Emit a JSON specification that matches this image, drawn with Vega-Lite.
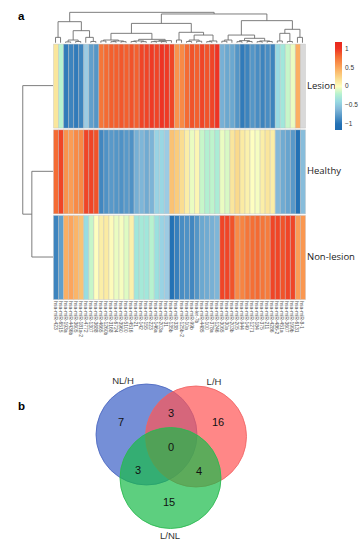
{
  "$schema": "https://vega.github.io/schema/vega-lite/v6.json",
  "padding": 0,
  "spacing": 0,
  "background": "white",
  "config": {
    "view": {"stroke": null},
    "axis": {"disable": true},
    "title": {"font": "Liberation Sans", "fontSize": 11.5, "fontWeight": "bold", "color": "#000000", "anchor": "start", "frame": "group", "baseline": "alphabetic"}
  },
  "datasets": {
    "heat": [
      {"c":0,"r":2,"v":0.15},{"c":1,"r":2,"v":-0.2},{"c":2,"r":2,"v":-0.95},{"c":3,"r":2,"v":-0.9},{"c":4,"r":2,"v":-0.95},{"c":5,"r":2,"v":-0.9},{"c":6,"r":2,"v":-0.5},{"c":7,"r":2,"v":-0.75},{"c":8,"r":2,"v":-0.8},{"c":9,"r":2,"v":0.75},
      {"c":10,"r":2,"v":0.8},{"c":11,"r":2,"v":0.85},{"c":12,"r":2,"v":0.85},{"c":13,"r":2,"v":0.88},{"c":14,"r":2,"v":0.85},{"c":15,"r":2,"v":0.9},{"c":16,"r":2,"v":0.85},{"c":17,"r":2,"v":0.95},{"c":18,"r":2,"v":0.95},{"c":19,"r":2,"v":0.98},
      {"c":20,"r":2,"v":0.95},{"c":21,"r":2,"v":1.0},{"c":22,"r":2,"v":0.98},{"c":23,"r":2,"v":0.95},{"c":24,"r":2,"v":0.6},{"c":25,"r":2,"v":0.65},{"c":26,"r":2,"v":0.8},{"c":27,"r":2,"v":0.9},{"c":28,"r":2,"v":0.85},{"c":29,"r":2,"v":0.95},
      {"c":30,"r":2,"v":0.9},{"c":31,"r":2,"v":0.95},{"c":32,"r":2,"v":1.0},{"c":33,"r":2,"v":-0.65},{"c":34,"r":2,"v":-0.7},{"c":35,"r":2,"v":-0.7},{"c":36,"r":2,"v":-0.8},{"c":37,"r":2,"v":-0.95},{"c":38,"r":2,"v":-0.9},{"c":39,"r":2,"v":-0.8},
      {"c":40,"r":2,"v":-0.85},{"c":41,"r":2,"v":-0.9},{"c":42,"r":2,"v":-0.85},{"c":43,"r":2,"v":-0.9},{"c":44,"r":2,"v":-0.4},{"c":45,"r":2,"v":-0.3},{"c":46,"r":2,"v":-0.15},{"c":47,"r":2,"v":-0.05},{"c":48,"r":2,"v":0.45},{"c":49,"r":2,"v":null},
      {"c":0,"r":1,"v":0.8},{"c":1,"r":1,"v":0.95},{"c":2,"r":1,"v":0.6},{"c":3,"r":1,"v":0.55},{"c":4,"r":1,"v":0.65},{"c":5,"r":1,"v":0.65},{"c":6,"r":1,"v":0.95},{"c":7,"r":1,"v":0.95},{"c":8,"r":1,"v":0.9},{"c":9,"r":1,"v":-0.88},
      {"c":10,"r":1,"v":-0.82},{"c":11,"r":1,"v":-0.78},{"c":12,"r":1,"v":-0.8},{"c":13,"r":1,"v":-0.82},{"c":14,"r":1,"v":-0.78},{"c":15,"r":1,"v":-0.82},{"c":16,"r":1,"v":-0.65},{"c":17,"r":1,"v":-0.62},{"c":18,"r":1,"v":-0.68},{"c":19,"r":1,"v":-0.63},
      {"c":20,"r":1,"v":-0.45},{"c":21,"r":1,"v":-0.42},{"c":22,"r":1,"v":-0.5},{"c":23,"r":1,"v":0.35},{"c":24,"r":1,"v":0.3},{"c":25,"r":1,"v":0.2},{"c":26,"r":1,"v":0.1},{"c":27,"r":1,"v":-0.05},{"c":28,"r":1,"v":0.05},{"c":29,"r":1,"v":-0.15},
      {"c":30,"r":1,"v":-0.22},{"c":31,"r":1,"v":-0.18},{"c":32,"r":1,"v":-0.25},{"c":33,"r":1,"v":-0.05},{"c":34,"r":1,"v":-0.1},{"c":35,"r":1,"v":0.15},{"c":36,"r":1,"v":0.22},{"c":37,"r":1,"v":0.12},{"c":38,"r":1,"v":0.08},{"c":39,"r":1,"v":0.0},
      {"c":40,"r":1,"v":-0.02},{"c":41,"r":1,"v":0.1},{"c":42,"r":1,"v":0.15},{"c":43,"r":1,"v":0.1},{"c":44,"r":1,"v":-0.6},{"c":45,"r":1,"v":-0.68},{"c":46,"r":1,"v":-0.72},{"c":47,"r":1,"v":-0.78},{"c":48,"r":1,"v":-1.0},{"c":49,"r":1,"v":-0.58},
      {"c":0,"r":0,"v":-0.9},{"c":1,"r":0,"v":-0.75},{"c":2,"r":0,"v":0.45},{"c":3,"r":0,"v":0.5},{"c":4,"r":0,"v":0.42},{"c":5,"r":0,"v":0.35},{"c":6,"r":0,"v":-0.38},{"c":7,"r":0,"v":-0.15},{"c":8,"r":0,"v":0.0},{"c":9,"r":0,"v":0.1},
      {"c":10,"r":0,"v":0.12},{"c":11,"r":0,"v":0.02},{"c":12,"r":0,"v":-0.05},{"c":13,"r":0,"v":-0.02},{"c":14,"r":0,"v":-0.08},{"c":15,"r":0,"v":0.08},{"c":16,"r":0,"v":-0.3},{"c":17,"r":0,"v":-0.28},{"c":18,"r":0,"v":-0.3},{"c":19,"r":0,"v":-0.2},
      {"c":20,"r":0,"v":-0.35},{"c":21,"r":0,"v":-0.45},{"c":22,"r":0,"v":-0.5},{"c":23,"r":0,"v":-1.0},{"c":24,"r":0,"v":-0.92},{"c":25,"r":0,"v":-0.85},{"c":26,"r":0,"v":-0.82},{"c":27,"r":0,"v":-0.88},{"c":28,"r":0,"v":-0.8},{"c":29,"r":0,"v":-0.7},
      {"c":30,"r":0,"v":-0.68},{"c":31,"r":0,"v":-0.65},{"c":32,"r":0,"v":-0.62},{"c":33,"r":0,"v":0.95},{"c":34,"r":0,"v":0.95},{"c":35,"r":0,"v":0.9},{"c":36,"r":0,"v":0.65},{"c":37,"r":0,"v":0.68},{"c":38,"r":0,"v":0.75},{"c":39,"r":0,"v":0.78},
      {"c":40,"r":0,"v":0.8},{"c":41,"r":0,"v":0.75},{"c":42,"r":0,"v":0.72},{"c":43,"r":0,"v":0.95},{"c":44,"r":0,"v":0.95},{"c":45,"r":0,"v":0.9},{"c":46,"r":0,"v":0.95},{"c":47,"r":0,"v":0.95},{"c":48,"r":0,"v":0.55},{"c":49,"r":0,"v":0.58}
    ],
    "cdend": [
      {"xl":0.5,"xr":1.5,"h":3.053,"hl":2.99,"hr":2.99},
      {"xl":2.5,"xr":3.5,"h":3.0,"hl":2.99,"hr":2.99},
      {"xl":4.5,"xr":5.5,"h":3.005,"hl":2.99,"hr":2.99},
      {"xl":3.0,"xr":5.0,"h":3.022,"hl":3.0,"hr":3.005},
      {"xl":7.5,"xr":8.5,"h":3.005,"hl":2.99,"hr":2.99},
      {"xl":6.5,"xr":8.0,"h":3.053,"hl":2.99,"hr":3.005},
      {"xl":4.0,"xr":7.25,"h":3.131,"hl":3.022,"hr":3.053},
      {"xl":1.0,"xr":5.625,"h":3.236,"hl":3.053,"hr":3.131},
      {"xl":9.5,"xr":10.5,"h":3.011,"hl":2.99,"hr":2.99},
      {"xl":11.5,"xr":12.5,"h":3.003,"hl":2.99,"hr":2.99},
      {"xl":13.5,"xr":14.5,"h":3.003,"hl":2.99,"hr":2.99},
      {"xl":12.0,"xr":14.0,"h":3.011,"hl":3.003,"hr":3.003},
      {"xl":10.0,"xr":13.0,"h":3.022,"hl":3.011,"hr":3.011},
      {"xl":15.5,"xr":16.5,"h":3.005,"hl":2.99,"hr":2.99},
      {"xl":17.5,"xr":18.5,"h":3.003,"hl":2.99,"hr":2.99},
      {"xl":16.0,"xr":18.0,"h":3.011,"hl":3.005,"hr":3.003},
      {"xl":19.5,"xr":20.5,"h":3.003,"hl":2.99,"hr":2.99},
      {"xl":21.5,"xr":22.5,"h":3.003,"hl":2.99,"hr":2.99},
      {"xl":20.0,"xr":22.0,"h":3.008,"hl":3.003,"hr":3.003},
      {"xl":21.0,"xr":23.5,"h":3.015,"hl":3.008,"hr":2.99},
      {"xl":17.0,"xr":22.25,"h":3.03,"hl":3.011,"hr":3.015},
      {"xl":11.5,"xr":19.625,"h":3.1,"hl":3.022,"hr":3.03},
      {"xl":24.5,"xr":25.5,"h":3.022,"hl":2.99,"hr":2.99},
      {"xl":26.5,"xr":27.5,"h":3.005,"hl":2.99,"hr":2.99},
      {"xl":28.5,"xr":29.5,"h":3.008,"hl":2.99,"hr":2.99},
      {"xl":27.0,"xr":29.0,"h":3.022,"hl":3.005,"hr":3.008},
      {"xl":30.5,"xr":31.5,"h":3.003,"hl":2.99,"hr":2.99},
      {"xl":31.0,"xr":32.5,"h":3.011,"hl":3.003,"hr":2.99},
      {"xl":28.0,"xr":31.75,"h":3.08,"hl":3.022,"hr":3.011},
      {"xl":25.0,"xr":29.875,"h":3.112,"hl":3.022,"hr":3.08},
      {"xl":15.5625,"xr":27.4375,"h":3.216,"hl":3.1,"hr":3.112},
      {"xl":33.5,"xr":34.5,"h":3.008,"hl":2.99,"hr":2.99},
      {"xl":34.0,"xr":35.5,"h":3.022,"hl":3.008,"hr":2.99},
      {"xl":36.5,"xr":37.5,"h":3.003,"hl":2.99,"hr":2.99},
      {"xl":38.5,"xr":39.5,"h":3.005,"hl":2.99,"hr":2.99},
      {"xl":37.0,"xr":39.0,"h":3.015,"hl":3.003,"hr":3.005},
      {"xl":40.5,"xr":41.5,"h":3.003,"hl":2.99,"hr":2.99},
      {"xl":42.5,"xr":43.5,"h":3.005,"hl":2.99,"hr":2.99},
      {"xl":41.0,"xr":43.0,"h":3.011,"hl":3.003,"hr":3.005},
      {"xl":38.0,"xr":42.0,"h":3.042,"hl":3.015,"hr":3.011},
      {"xl":34.75,"xr":40.0,"h":3.08,"hl":3.022,"hr":3.042},
      {"xl":44.5,"xr":45.5,"h":3.011,"hl":2.99,"hr":2.99},
      {"xl":46.5,"xr":47.5,"h":3.005,"hl":2.99,"hr":2.99},
      {"xl":45.0,"xr":47.0,"h":3.1,"hl":3.011,"hr":3.005},
      {"xl":48.5,"xr":49.5,"h":3.053,"hl":2.99,"hr":2.99},
      {"xl":46.0,"xr":49.0,"h":3.147,"hl":3.1,"hr":3.053},
      {"xl":37.375,"xr":47.5,"h":3.248,"hl":3.08,"hr":3.147},
      {"xl":21.5,"xr":42.4375,"h":3.326,"hl":3.216,"hr":3.248},
      {"xl":3.3125,"xr":31.96875,"h":3.345,"hl":3.236,"hr":3.326}
    ],
    "rdend": [
      {"yl":1.49,"yr":0.49,"h":-4.2,"hl":0,"hr":0},
      {"yl":2.49,"yr":0.99,"h":-6.0,"hl":0,"hr":-4.2}
    ],
    "rowlab": [
      {"row":"Lesion","mid":2.49},
      {"row":"Healthy","mid":1.49},
      {"row":"Non-lesion","mid":0.49}
    ],
    "collab": [
      {"cx":0.5,"name":"hsa-miR-423"},{"cx":1.5,"name":"hsa-miR-6515"},{"cx":2.5,"name":"hsa-miR-193a"},{"cx":3.5,"name":"hsa-miR-4436b"},{"cx":4.5,"name":"hsa-miR-3605"},
      {"cx":5.5,"name":"hsa-miR-181a-2"},{"cx":6.5,"name":"hsa-miR-4772"},{"cx":7.5,"name":"hsa-miR-1307"},{"cx":8.5,"name":"hsa-miR-3688"},{"cx":9.5,"name":"hsa-miR-4665"},
      {"cx":10.5,"name":"hsa-miR-1260b"},{"cx":11.5,"name":"hsa-miR-3168"},{"cx":12.5,"name":"hsa-miR-6724"},{"cx":13.5,"name":"hsa-miR-3960"},{"cx":14.5,"name":"hsa-miR-5100"},
      {"cx":15.5,"name":"hsa-miR-4516"},{"cx":16.5,"name":"hsa-miR-21"},{"cx":17.5,"name":"hsa-miR-142"},{"cx":18.5,"name":"hsa-miR-155"},{"cx":19.5,"name":"hsa-miR-223"},
      {"cx":20.5,"name":"hsa-miR-146a"},{"cx":21.5,"name":"hsa-miR-203a"},{"cx":22.5,"name":"hsa-miR-31"},{"cx":23.5,"name":"hsa-miR-135b"},{"cx":24.5,"name":"hsa-miR-338"},
      {"cx":25.5,"name":"hsa-miR-125b-2"},{"cx":26.5,"name":"hsa-miR-10a"},{"cx":27.5,"name":"hsa-miR-99b"},{"cx":28.5,"name":"hsa-let-7b"},{"cx":29.5,"name":"hsa-miR-4485"},
      {"cx":30.5,"name":"hsa-miR-100"},{"cx":31.5,"name":"hsa-miR-378a"},{"cx":32.5,"name":"hsa-miR-1246"},{"cx":33.5,"name":"hsa-miR-3065"},{"cx":34.5,"name":"hsa-miR-30a"},
      {"cx":35.5,"name":"hsa-miR-203b"},{"cx":36.5,"name":"hsa-miR-205"},{"cx":37.5,"name":"hsa-miR-944"},{"cx":38.5,"name":"hsa-miR-149"},{"cx":39.5,"name":"hsa-miR-1271"},
      {"cx":40.5,"name":"hsa-miR-184"},{"cx":41.5,"name":"hsa-miR-375"},{"cx":42.5,"name":"hsa-miR-211"},{"cx":43.5,"name":"hsa-miR-4286"},{"cx":44.5,"name":"hsa-miR-486-2"},
      {"cx":45.5,"name":"hsa-miR-451a"},{"cx":46.5,"name":"hsa-miR-3607"},{"cx":47.5,"name":"hsa-miR-199b"},{"cx":48.5,"name":"hsa-miR-6131"},{"cx":49.5,"name":"hsa-miR-8-1"}
    ],
    "circles": [
      {"set":"NL/H","cx":0,"cy":0},
      {"set":"L/H","cx":0.99,"cy":-0.04},
      {"set":"L/NL","cx":0.48,"cy":-0.87}
    ],
    "counts": [
      {"n":"7","x":-0.51,"y":0.23},
      {"n":"3","x":0.49,"y":0.41},
      {"n":"16","x":1.43,"y":0.23},
      {"n":"0","x":0.49,"y":-0.27},
      {"n":"3","x":-0.17,"y":-0.73},
      {"n":"4","x":1.05,"y":-0.75},
      {"n":"15","x":0.45,"y":-1.37}
    ],
    "setlab": [
      {"set":"NL/H","x":-0.47,"y":1.07},
      {"set":"L/H","x":1.35,"y":1.05},
      {"set":"L/NL","x":0.47,"y":-2.03}
    ]
  },
  "vconcat": [
    {
      "width": 363,
      "height": 352,
      "title": {"text": "a", "dx": 18, "offset": -22},
      "layer": [
        {
          "data": {"name": "heat"},
          "mark": {"type": "rect", "stroke": "#bdbdbd", "strokeWidth": 0.4, "invalid": null},
          "encoding": {
            "x": {"field": "c", "type": "quantitative", "bin": {"binned": true, "step": 1}, "scale": {"domain": [-10.516, 61.508], "nice": false, "zero": false}},
            "y": {"field": "r", "type": "quantitative", "bin": {"binned": true, "step": 0.98}, "scale": {"domain": [-0.6183, 3.489], "nice": false, "zero": false}},
            "color": {
              "condition": {"test": "datum.v === null", "value": "#d9d9d9"},
              "field": "v", "type": "quantitative",
              "scale": {"type": "linear", "domain": [-1.16, -1, -0.5, 0, 0.5, 1, 1.18], "range": ["#1e6bb0", "#2472b5", "#9ccbe3", "#fefec0", "#fca55d", "#ee3424", "#e8281c"], "clamp": true},
              "legend": {"orient": "none", "legendX": 335, "legendY": 42, "direction": "vertical", "gradientLength": 88, "gradientThickness": 7, "title": null, "values": [-1, -0.5, 0, 0.5, 1], "format": "~g", "labelFontSize": 6.5, "labelFont": "Liberation Sans", "labelColor": "#333333", "labelOffset": 3, "labelOverlap": false, "gradientStrokeWidth": 0}
            }
          }
        },
        {
          "data": {"name": "cdend"},
          "mark": {"type": "rule", "color": "#6e6e6e", "strokeWidth": 0.9},
          "encoding": {"x": {"field": "xl", "type": "quantitative"}, "x2": {"field": "xr"}, "y": {"field": "h", "type": "quantitative"}}
        },
        {
          "data": {"name": "cdend"},
          "mark": {"type": "rule", "color": "#6e6e6e", "strokeWidth": 0.9},
          "encoding": {"x": {"field": "xl", "type": "quantitative"}, "y": {"field": "h", "type": "quantitative"}, "y2": {"field": "hl"}}
        },
        {
          "data": {"name": "cdend"},
          "mark": {"type": "rule", "color": "#6e6e6e", "strokeWidth": 0.9},
          "encoding": {"x": {"field": "xr", "type": "quantitative"}, "y": {"field": "h", "type": "quantitative"}, "y2": {"field": "hr"}}
        },
        {
          "data": {"name": "rdend"},
          "mark": {"type": "rule", "color": "#6e6e6e", "strokeWidth": 0.9},
          "encoding": {"x": {"field": "h", "type": "quantitative"}, "y": {"field": "yl", "type": "quantitative"}, "y2": {"field": "yr"}}
        },
        {
          "data": {"name": "rdend"},
          "mark": {"type": "rule", "color": "#6e6e6e", "strokeWidth": 0.9},
          "encoding": {"x": {"field": "h", "type": "quantitative"}, "x2": {"field": "hl"}, "y": {"field": "yl", "type": "quantitative"}}
        },
        {
          "data": {"name": "rdend"},
          "mark": {"type": "rule", "color": "#6e6e6e", "strokeWidth": 0.9},
          "encoding": {"x": {"field": "h", "type": "quantitative"}, "x2": {"field": "hr"}, "y": {"field": "yr", "type": "quantitative"}}
        },
        {
          "data": {"name": "collab"},
          "mark": {"type": "text", "angle": 90, "align": "left", "baseline": "middle", "font": "Liberation Sans", "fontSize": 5, "color": "#555555"},
          "encoding": {"x": {"field": "cx", "type": "quantitative"}, "y": {"datum": -0.025, "type": "quantitative"}, "text": {"field": "name"}}
        },
        {
          "data": {"name": "rowlab"},
          "mark": {"type": "text", "align": "left", "baseline": "middle", "font": "Open Sans", "fontSize": 9.5, "color": "#222222", "dx": 2},
          "encoding": {"x": {"datum": 50, "type": "quantitative"}, "y": {"field": "mid", "type": "quantitative"}, "text": {"field": "row"}}
        }
      ]
    },
    {
      "width": 363,
      "height": 198,
      "title": {"text": "b", "dx": 18, "offset": -60},
      "layer": [
        {
          "data": {"name": "circles"},
          "mark": {"type": "point", "shape": "circle", "filled": true, "size": 10201, "fillOpacity": 0.7, "strokeOpacity": 0.85, "strokeWidth": 1},
          "encoding": {
            "x": {"field": "cx", "type": "quantitative", "scale": {"domain": [-2.93, 4.33], "nice": false, "zero": false}},
            "y": {"field": "cy", "type": "quantitative", "scale": {"domain": [-2.31, 1.65], "nice": false, "zero": false}},
            "fill": {"field": "set", "type": "nominal", "scale": {"domain": ["NL/H", "L/H", "L/NL"], "range": ["#3b5fc6", "#ff5454", "#18ba48"]}, "legend": null},
            "stroke": {"field": "set", "type": "nominal", "scale": {"domain": ["NL/H", "L/H", "L/NL"], "range": ["#4a66c0", "#f06464", "#2cb850"]}, "legend": null}
          }
        },
        {
          "data": {"name": "counts"},
          "mark": {"type": "text", "font": "Liberation Sans", "fontSize": 11, "color": "#111111", "align": "center", "baseline": "middle"},
          "encoding": {"x": {"field": "x", "type": "quantitative"}, "y": {"field": "y", "type": "quantitative"}, "text": {"field": "n"}}
        },
        {
          "data": {"name": "setlab"},
          "mark": {"type": "text", "font": "Liberation Sans", "fontSize": 9.5, "color": "#333333", "align": "center", "baseline": "middle"},
          "encoding": {"x": {"field": "x", "type": "quantitative"}, "y": {"field": "y", "type": "quantitative"}, "text": {"field": "set"}}
        }
      ]
    }
  ]
}
